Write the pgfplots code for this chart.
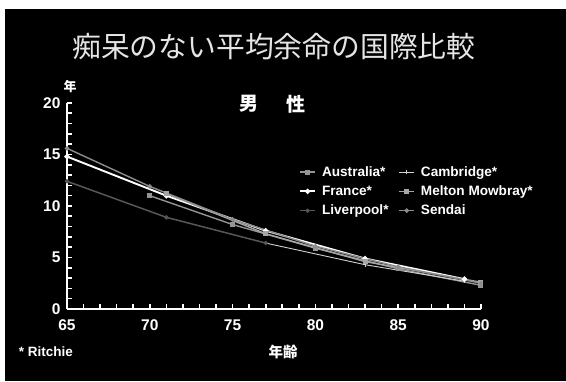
\documentclass[border=0pt]{standalone}
\usepackage{pgfplots}
\pgfplotsset{compat=1.18}
\usepackage{fontspec}
\setmainfont{Liberation Sans}
\newfontfamily\jp{Noto Sans CJK JP}

\definecolor{cAus}{gray}{0.58}
\definecolor{cCam}{gray}{0.82}
\definecolor{cFra}{gray}{1.00}
\definecolor{cMel}{gray}{0.65}
\definecolor{cLiv}{gray}{0.34}
\definecolor{cSen}{gray}{0.55}

\begin{document}
\begin{tikzpicture}[x=1pt,y=1pt]
  % slide background
  \fill[white] (0,0) rectangle (566,381);
  \fill[black] (5,0) rectangle (566,372);

  % titles and notes
  \node[text=black!10!white, font=\jp\fontsize{28.8}{30}\selectfont] at (274,334) {痴呆のない平均余命の国際比較};
  \node[text=white, font=\jp\bfseries\fontsize{19}{20}\selectfont] at (249,277) {男};
  \node[text=white, font=\jp\bfseries\fontsize{19}{20}\selectfont] at (296,277) {性};
  \node[text=white, font=\jp\bfseries\fontsize{13}{14}\selectfont] at (70,294) {年};
  \node[text=white, font=\jp\bfseries\fontsize{14.5}{15}\selectfont] at (283,29) {年齢};
  \node[text=white, font=\bfseries\fontsize{13.5}{15}\selectfont] at (46,29) {* Ritchie};

  \begin{axis}[
    at={(67pt,72pt)}, anchor=south west,
    scale only axis, width=414pt, height=206pt,
    xmin=65, xmax=90, ymin=0, ymax=20,
    axis lines*=left,
    axis line style={white, line width=2pt},
    xtick={65,70,...,90}, ytick={0,5,...,20},
    minor x tick num=4, minor y tick num=4,
    tick align=inside,
    major tick length=5pt, minor tick length=5pt,
    tick style={white, line width=1.6pt},
    ticklabel style={text=white, font=\bfseries\fontsize{15.5}{16}\selectfont},
    /pgf/number format/assume math mode=true,
    xticklabel style={yshift=-7pt},
    yticklabel style={xshift=-3pt},
    clip=false,
    legend columns=2,
    legend style={at={(0.553,0.713)}, anchor=north west, draw=none, fill=none,
      text=white, font=\bfseries\fontsize{13.6}{15}\selectfont,
      row sep=4pt,
      /tikz/every odd column/.append style={column sep=4pt},
      /tikz/every even column/.append style={column sep=8pt}},
    legend cell align=left,
    legend image code/.code={
      \draw[#1] (0pt,0pt) -- (15pt,0pt);
      \draw[#1, mark repeat=1] plot coordinates {(7.5pt,0pt)};
    },
  ]
    % Australia
    \addplot[cAus, line width=1.4pt, mark=square*, mark size=1.8pt] coordinates {
      (70,11.0) (75,8.2) (80,5.9) (85,3.9) (90,2.3)};
    \addlegendentry{Australia*}
    % Cambridge
    \addplot[cCam, line width=0.9pt, mark=|, mark size=1.8pt] coordinates {
      (77,6.4) (83,4.3) (89,2.7)};
    \addlegendentry{Cambridge*}
    % France
    \addplot[cFra, line width=1.9pt, mark=*, mark size=1.6pt] coordinates {
      (65,14.8) (71,11.0) (77,7.6) (83,4.9) (89,2.9)};
    \addlegendentry{France*}
    % Melton Mowbray
    \addplot[cMel, line width=1.4pt, mark=square*, mark size=1.8pt] coordinates {
      (71,11.2) (77,7.3) (83,4.6) (90,2.6)};
    \addlegendentry{Melton Mowbray*}
    % Liverpool
    \addplot[cLiv, line width=1.5pt, mark=*, mark size=1.3pt] coordinates {
      (65,12.4) (71,8.9) (77,6.4)};
    \addlegendentry{Liverpool*}
    % Sendai
    \addplot[cSen, line width=1.4pt, mark=*, mark size=1.5pt] coordinates {
      (65,15.6) (70,11.9) (75,8.7) (80,6.1) (85,4.1) (90,2.5)};
    \addlegendentry{Sendai}
  \end{axis}
\end{tikzpicture}
\end{document}
